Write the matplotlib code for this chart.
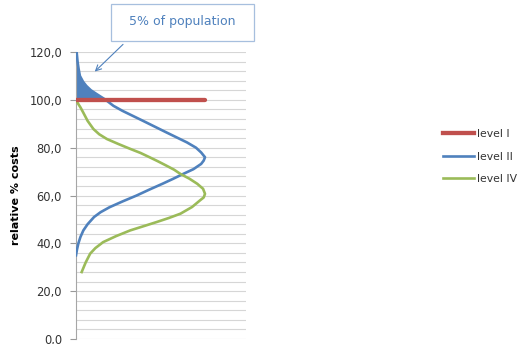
import numpy as np
import matplotlib
matplotlib.use("Agg")
import matplotlib.pyplot as plt
from matplotlib.lines import Line2D
from matplotlib.patches import Rectangle

# distributions: (relative % costs, share of population)
BLUE_Y = [120, 116, 113, 110, 107.5, 105.8, 104, 102.4, 100, 97.5, 95.4, 93.3, 91.2, 88.8,
          86.4, 84.3, 82.2, 80, 78, 76, 74.6, 73.2, 71, 69, 66.9, 64.9, 62.5, 60, 57.5,
          55.1, 53, 51, 48, 45.4, 42.6, 39.9, 37.5, 35]
BLUE_X = [0.005, 0.012, 0.02, 0.03, 0.055, 0.08, 0.115, 0.16, 0.23, 0.29, 0.36, 0.44,
          0.52, 0.61, 0.70, 0.78, 0.86, 0.93, 0.97, 1.00, 0.99, 0.97, 0.91, 0.83, 0.75,
          0.67, 0.57, 0.47, 0.36, 0.26, 0.19, 0.14, 0.09, 0.057, 0.034, 0.018, 0.008, 0.0]

GREEN_Y = [100, 98.5, 96.8, 94.7, 91.2, 87.8, 85.6, 83.6, 81.5, 79.5, 77.8, 76, 74.3, 72.5,
           70.8, 69, 67, 64.9, 62.8, 60.7, 59.2, 57.9, 55.2, 52.4, 50.6, 48.9, 47.1, 45.4,
           43, 40.5, 38, 35.7, 32, 28]
GREEN_X = [0.0, 0.015, 0.035, 0.056, 0.09, 0.135, 0.18, 0.24, 0.33, 0.42, 0.50, 0.57,
           0.635, 0.70, 0.76, 0.81, 0.88, 0.94, 0.985, 1.00, 0.99, 0.96, 0.90, 0.81,
           0.72, 0.625, 0.52, 0.42, 0.31, 0.21, 0.15, 0.11, 0.075, 0.044]

RED_Y = [100, 100]
RED_X = [0.0, 1.0]

MAJOR_TICKS = [0, 20, 40, 60, 80, 100, 120]
TICK_LABELS = ["0,0", "20,0", "40,0", "60,0", "80,0", "100,0", "120,0"]
MINOR_TICKS = list(range(0, 121, 4))

RED = "#C0504D"
BLUE = "#4F81BD"
GREEN = "#9BBB59"

W, H = 522, 344
fig = plt.figure(figsize=(W / 100, H / 100), dpi=100)
ax = fig.add_axes([76 / W, 1 - 339 / H, 170 / W, 287 / H])

# shaded 5 % tail above the level I line
by = np.array(BLUE_Y)
bx = np.array(BLUE_X)
top = by >= 100
ax.fill_betweenx(by[top], 0, bx[top], color=BLUE, lw=0, zorder=2)

ax.plot(RED_X, RED_Y, color=RED, lw=3.1, solid_capstyle="round", zorder=4)
ax.plot(BLUE_X, BLUE_Y, color=BLUE, lw=1.9, zorder=3)
ax.plot(GREEN_X, GREEN_Y, color=GREEN, lw=1.9, zorder=3)

ax.set_xlim(0, 170 / 129)
ax.set_ylim(0, 120)
ax.set_yticks(MAJOR_TICKS)
ax.set_yticklabels(TICK_LABELS, fontsize=8.3, color="#333333")
ax.set_yticks(MINOR_TICKS, minor=True)
ax.set_xticks([])
ax.tick_params(axis="y", which="major", length=4, width=0.8, color="#999999", pad=6)
ax.tick_params(axis="y", which="minor", length=0)
ax.grid(True, axis="y", which="both", color="#D6D6D6", lw=0.8, zorder=0)
ax.set_axisbelow(True)
for s in ["top", "right", "bottom"]:
    ax.spines[s].set_visible(False)
ax.spines["left"].set_color("#A6A6A6")
ax.spines["left"].set_linewidth(0.8)
ax.set_ylabel("relative % costs", fontsize=8, fontweight="bold", labelpad=6)

# callout box + arrow
fig.patches.append(Rectangle((111 / W, 1 - 41 / H), 143 / W, 37 / H,
                             transform=fig.transFigure, fc="white", ec="#A7BFDE", lw=0.9))
fig.text(182 / W, 1 - 22 / H, "5% of population", fontsize=9, color=BLUE,
         ha="center", va="center")
ax.annotate("", xy=(0.13, 111), xytext=(0.38, 124), annotation_clip=False,
            arrowprops=dict(arrowstyle="->", color=BLUE, lw=0.8))

handles = [Line2D([], [], color=RED, lw=3.1),
           Line2D([], [], color=BLUE, lw=1.9),
           Line2D([], [], color=GREEN, lw=1.9)]
fig.legend(handles, ["level I", "level II", "level IV"], loc="center left",
           bbox_to_anchor=(443 / W, 1 - 156.5 / H), frameon=False, fontsize=7.8,
           handlelength=2.9, handletextpad=0.2, labelspacing=1.15, borderpad=0,
           borderaxespad=0, labelcolor="#333333")

fig.savefig("out.png", dpi=100)
